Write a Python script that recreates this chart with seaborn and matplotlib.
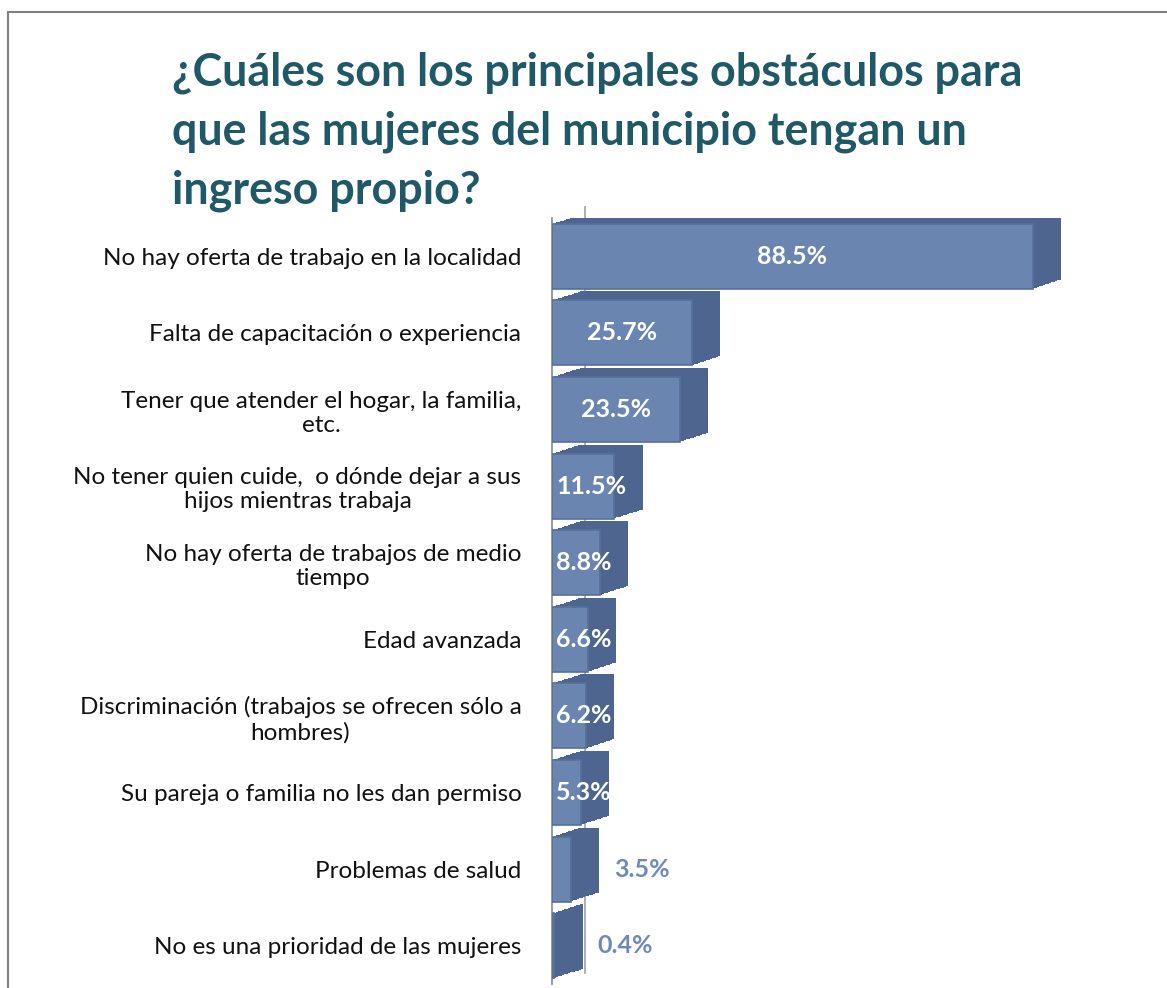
import matplotlib
matplotlib.use('Agg')
import matplotlib.pyplot as plt
import matplotlib.patheffects as pe
import seaborn as sns
import pandas as pd
from matplotlib.patches import Rectangle

# data
categories = [
    "No hay oferta de trabajo en la localidad",
    "Falta de capacitación o experiencia",
    "Tener que atender el hogar, la familia,\netc.",
    "No tener quien cuide,  o dónde dejar a sus\nhijos mientras trabaja",
    "No hay oferta de trabajos de medio\ntiempo",
    "Edad avanzada",
    "Discriminación (trabajos se ofrecen sólo a\nhombres)",
    "Su pareja o familia no les dan permiso",
    "Problemas de salud",
    "No es una prioridad de las mujeres",
]
values = [88.5, 25.7, 23.5, 11.5, 8.8, 6.6, 6.2, 5.3, 3.5, 0.4]
title = "¿Cuáles son los principales obstáculos para\nque las mujeres del municipio tengan un\ningreso propio?"

df = pd.DataFrame({"cat": categories, "val": values})

sns.set_style("white")
plt.rcParams['font.family'] = ['Lato', 'DejaVu Sans']

fig = plt.figure(figsize=(11.67, 9.88), dpi=100)
ax = fig.add_axes([552 / 1167, 4 / 988, 543 / 1167, 766 / 988])

# fake 3D depth: stack of darker copies pushed back up/right
steps = 14
depth = [pe.SimplePatchShadow(offset=(20.5 * k / steps, 6.5 * k / steps),
                              shadow_rgbFace="#4e6590", alpha=1)
         for k in range(steps, 0, -1)] + [pe.Normal()]
sns.barplot(data=df, x="val", y="cat", ax=ax, color="#6a86b0", width=0.85,
            edgecolor="#56709b", linewidth=1.2, saturation=1)
for p in ax.patches:
    p.set_path_effects(depth)

ax.set_xlim(0, 100)
ax.set_ylim(len(categories) - 0.5, -0.5)
ax.set_xlabel("")
ax.set_ylabel("")
ax.set_xticks([])
ax.tick_params(axis='y', length=0, labelsize=17.5, pad=22, colors="#111111")
for lab in ax.get_yticklabels():
    lab.set_multialignment("center")
ax.set_yticks([i + 0.5 for i in range(-1, len(categories))], minor=True)
ax.tick_params(axis='y', which='minor', length=9, color="#888888", width=1)

for s in ["top", "right", "bottom"]:
    ax.spines[s].set_visible(False)
ax.spines["left"].set_color("#888888")
ax.spines["left"].set_linewidth(1.2)
ax.spines["left"].set_zorder(0.5)
ax.spines["left"].set_path_effects(
    [pe.SimpleLineShadow(offset=(24, 8), shadow_color="#a0a0a0", alpha=1), pe.Normal()])

for i, v in enumerate(values):
    if v >= 15:
        ax.text(v / 2, i, f"{v}%", ha="center", va="center", color="white",
                fontsize=18, fontweight="bold")
    elif v >= 5:
        ax.text(0.8, i, f"{v}%", ha="left", va="center", color="white",
                fontsize=18, fontweight="bold")
    else:
        ax.text(v + 8, i, f"{v}%", ha="left", va="center", color="#7089b8",
                fontsize=18, fontweight="bold")

fig.text(172 / 1167, 1 - 52 / 988, title, ha="left", va="top", fontsize=32.3,
         fontweight="bold", color="#1f5866", linespacing=1.48)

# outer frame
fig.patches.append(Rectangle((8 / 1167, -0.1), 1.2, 1.1 - 12 / 988,
                             transform=fig.transFigure, fill=False,
                             edgecolor="#808080", linewidth=1.5))

fig.savefig("out.png", dpi=100)
